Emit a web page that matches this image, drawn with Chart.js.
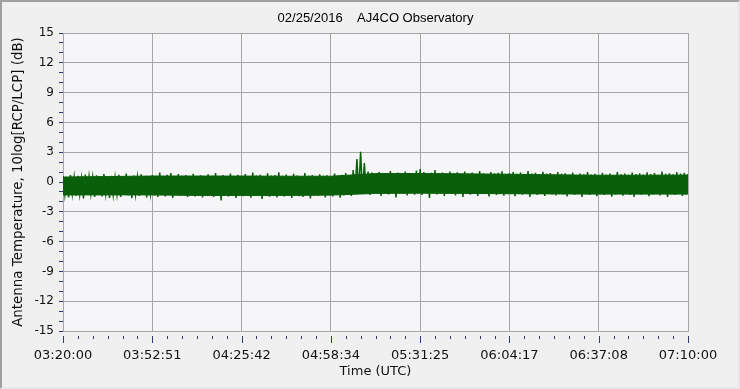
<!DOCTYPE html>
<html lang="en">
<head>
<meta charset="UTF-8">
<title>AJ4CO Observatory</title>
<script src="https://cdn.jsdelivr.net/npm/chart.js"></script>
<style>
  body { margin: 0; background: #f0f0f0; }
  #wrap { position: relative; width: 740px; height: 389px; }
  .moldura { position: absolute; left: 0; top: 0; width: 740px; height: 389px; box-sizing: border-box;
             border: 2px solid; border-color: #a0a0a0 #e6e6e6 #e6e6e6 #a0a0a0; }
  #grafico { position: absolute; left: 0; top: 0; }
</style>
</head>
<body>
<div id="wrap">
  <div class="moldura"></div>
  <canvas id="grafico" width="740" height="389"></canvas>
</div>
<script>
// time axis labels (UTC), 7 equal intervals across the session
const xTickLabels = ['03:20:00', '03:52:51', '04:25:42', '04:58:34', '05:31:25', '06:04:17', '06:37:08', '07:10:00'];
const TOTAL_SEC = 13800; // 03:20:00 -> 07:10:00

// y ticks in dB
const yMajor = [-15, -12, -9, -6, -3, 0, 3, 6, 9, 12, 15];

// solid body of the trace (15 points evenly over the session)
const coreTop = [0.5, 0.55, 0.6, 0.6, 0.6, 0.58, 0.58, 0.85, 0.85, 0.82, 0.78, 0.72, 0.68, 0.68, 0.7];
const coreBottom = [-1.3, -1.3, -1.3, -1.35, -1.35, -1.35, -1.32, -1.15, -1.12, -1.15, -1.18, -1.2, -1.22, -1.22, -1.22];

// noise peaks of the RCP/LCP trace (169 samples over the session)
const traceHigh = [
  0.6, 0.45, 0.7, 0.5, 0.62, 0.4, 0.75, 0.55, 0.48, 0.68, 0.52, 0.8,
  0.5, 0.62, 0.45, 0.72, 0.58, 0.85, 0.52, 0.66, 0.5, 0.78, 0.6, 0.55,
  0.7, 0.62, 0.95, 0.6, 0.72, 0.9, 0.58, 0.8, 0.62, 0.7, 0.55, 0.82,
  0.6, 0.68, 0.52, 0.78, 0.62, 0.9, 0.58, 0.7, 0.6, 0.85, 0.56, 0.72,
  0.62, 0.8, 0.58, 0.95, 0.66, 0.72, 0.6, 0.88, 0.64, 0.7, 0.98, 0.62,
  0.75, 0.6, 0.82, 0.66, 0.58, 0.9, 0.62, 0.7, 0.56, 0.78, 0.62, 0.68,
  0.6, 0.85, 0.64, 0.72, 0.9, 0.7, 1.2, 2.3, 3.05, 1.9, 1.05, 0.95,
  0.8, 1.0, 0.88, 0.78, 1.1, 0.85, 0.95, 0.8, 1.05, 0.9, 0.82, 1.15,
  1.3, 1.0, 0.8, 0.92, 1.2, 0.85, 0.95, 0.78, 1.05, 0.86, 0.98, 0.8,
  1.05, 0.82, 0.95, 0.78, 1.1, 0.88, 0.8, 1.0, 0.85, 0.92, 1.08, 0.8,
  0.9, 1.0, 0.82, 0.95, 0.78, 1.1, 0.86, 0.92, 0.8, 1.02, 0.85, 0.9,
  0.78, 1.0, 0.82, 0.88, 0.72, 0.95, 0.7, 0.85, 0.78, 1.0, 0.75, 0.82,
  0.7, 0.92, 0.76, 0.85, 0.7, 1.0, 0.78, 0.86, 0.72, 0.95, 0.8, 0.88,
  0.75, 0.98, 0.8, 0.9, 0.72, 1.05, 0.82, 0.88, 0.78, 1.0, 0.85, 0.92, 0.8
];
const traceLow = [
  -1.3, -1.55, -1.2, -1.4, -1.25, -1.65, -1.3, -1.2, -1.5, -1.28, -1.45, -1.22,
  -1.6, -1.3, -1.25, -1.5, -1.2, -1.35, -1.62, -1.25, -1.4, -1.3, -1.55, -1.2,
  -1.35, -1.5, -1.25, -1.45, -1.3, -1.6, -1.22, -1.38, -1.28, -1.5, -1.3, -1.45,
  -1.3, -1.55, -1.35, -1.28, -1.5, -1.4, -1.85, -1.32, -1.45, -1.3, -1.6, -1.35,
  -1.42, -1.3, -1.58, -1.35, -1.4, -1.7, -1.3, -1.48, -1.36, -1.55, -1.3, -1.45,
  -1.35, -1.6, -1.3, -1.42, -1.5, -1.28, -1.65, -1.35, -1.4, -1.3, -1.55, -1.32,
  -1.45, -1.3, -1.58, -1.35, -1.25, -1.4, -1.1, -1.0, -1.2, -1.05, -1.3, -1.15,
  -1.1, -1.4, -1.15, -1.25, -1.05, -1.55, -1.12, -1.2, -1.35, -1.1, -1.28, -1.15,
  -1.3, -1.1, -1.6, -1.18, -1.25, -1.1, -1.4, -1.15, -1.2, -1.35, -1.12, -1.5,
  -1.15, -1.28, -1.1, -1.4, -1.2, -1.15, -1.45, -1.18, -1.3, -1.12, -1.38, -1.2,
  -1.15, -1.42, -1.2, -1.28, -1.12, -1.5, -1.18, -1.3, -1.2, -1.4, -1.15, -1.25,
  -1.35, -1.18, -1.25, -1.45, -1.2, -1.3, -1.15, -1.5, -1.22, -1.3, -1.18, -1.42,
  -1.22, -1.3, -1.15, -1.48, -1.25, -1.2, -1.38, -1.18, -1.3, -1.5, -1.2, -1.28,
  -1.15, -1.42, -1.25, -1.2, -1.35, -1.18, -1.5, -1.22, -1.3, -1.15, -1.4, -1.25, -1.3
];

const verde = '#0a5f0a';
const grade = '#a6a6a6';
const azulMarca = '#2d3a70';

// the trace swings top -> bottom at every sample, like the raw receiver noise
const passo = TOTAL_SEC / (traceHigh.length - 1);
const pontosTraco = [];
traceHigh.forEach((v, i) => {
  pontosTraco.push({ x: i * passo, y: v });
  pontosTraco.push({ x: (i + 0.5) * passo, y: traceLow[i] });
});
const passoCore = TOTAL_SEC / (coreTop.length - 1);
const pontosCoreTop = coreTop.map((v, i) => ({ x: i * passoCore, y: v }));
const pontosCoreBottom = coreBottom.map((v, i) => ({ x: i * passoCore, y: v }));

// 6 subdivisions between labelled times
const tickSec = [];
for (let k = 0; k <= 42; k++) tickSec.push(k * TOTAL_SEC / 42);

// fundo da area do grafico
const fundoArea = {
  id: 'fundoArea',
  beforeDraw(chart) {
    const { ctx, chartArea: a } = chart;
    ctx.save();
    ctx.fillStyle = '#f6f6f9';
    ctx.fillRect(a.left, a.top, a.right - a.left, a.bottom - a.top);
    ctx.restore();
  }
};

// marcas do eixo x, um pouco abaixo da area
const marcasX = {
  id: 'marcasX',
  afterDraw(chart) {
    const { ctx, chartArea: a } = chart;
    const x = chart.scales.x;
    ctx.save();
    ctx.strokeStyle = azulMarca;
    ctx.lineWidth = 1;
    x.ticks.forEach((t, i) => {
      const px = Math.round(x.getPixelForValue(t.value)) + 0.5;
      const y0 = a.bottom + 5;
      ctx.beginPath();
      ctx.moveTo(px, y0);
      ctx.lineTo(px, y0 + (i % 6 === 0 ? 7 : 3));
      ctx.stroke();
    });
    ctx.restore();
  }
};

const config = {
  type: 'line',
  data: {
    datasets: [{
      data: pontosTraco,
      borderColor: verde,
      borderWidth: 1.5,
      pointRadius: 0,
      tension: 0,
      fill: false
    }, {
      data: pontosCoreTop,
      borderColor: verde,
      backgroundColor: verde,
      borderWidth: 1,
      pointRadius: 0,
      tension: 0,
      fill: '+1'
    }, {
      data: pontosCoreBottom,
      borderColor: verde,
      borderWidth: 1,
      pointRadius: 0,
      tension: 0,
      fill: false
    }]
  },
  options: {
    responsive: false,
    animation: false,
    events: [],
    layout: { padding: { top: 0, right: 52, bottom: 0, left: 0 } },
    plugins: {
      legend: { display: false },
      tooltip: { enabled: false },
      title: {
        display: true,
        fullSize: false,
        text: '02/25/2016    AJ4CO Observatory',
        color: '#000',
        font: { family: 'Liberation Sans', size: 13, weight: 'normal' },
        padding: { top: 11, bottom: 6.4 }
      }
    },
    scales: {
      x: {
        type: 'linear',
        min: 0,
        max: TOTAL_SEC,
        afterBuildTicks: s => { s.ticks = tickSec.map(v => ({ value: v })); },
        afterFit: s => { s.height = 58; },
        ticks: {
          autoSkip: false,
          maxRotation: 0,
          padding: 17,
          color: '#111',
          font: { family: 'DejaVu Sans', size: 13 },
          callback: (v, i) => (i % 6 === 0 ? xTickLabels[i / 6] : '')
        },
        grid: {
          drawTicks: false,
          color: c => (c.index % 6 === 0 ? grade : 'transparent')
        },
        border: { color: grade },
        title: {
          display: true,
          text: 'Time (UTC)',
          color: '#111',
          font: { family: 'DejaVu Sans', size: 13 },
          padding: { top: 0, bottom: 10 }
        }
      },
      y: {
        min: -15,
        max: 15,
        afterFit: s => { s.width = 63; },
        ticks: {
          stepSize: 1,
          autoSkip: false,
          padding: 5,
          color: '#111',
          font: { family: 'DejaVu Sans', size: 12 },
          callback: v => (yMajor.includes(v) ? String(v) : '')
        },
        grid: {
          tickLength: 4,
          tickColor: azulMarca,
          color: c => (yMajor.includes(c.tick.value) ? grade : 'transparent')
        },
        border: { color: grade },
        title: {
          display: true,
          text: 'Antenna Temperature, 10log[RCP/LCP] (dB)',
          color: '#111',
          font: { family: 'DejaVu Sans', size: 13.4 },
          padding: { top: 10, bottom: 0 }
        }
      }
    }
  },
  plugins: [fundoArea, marcasX]
};

const grafico = new Chart(document.getElementById('grafico'), config);
</script>
</body>
</html>
